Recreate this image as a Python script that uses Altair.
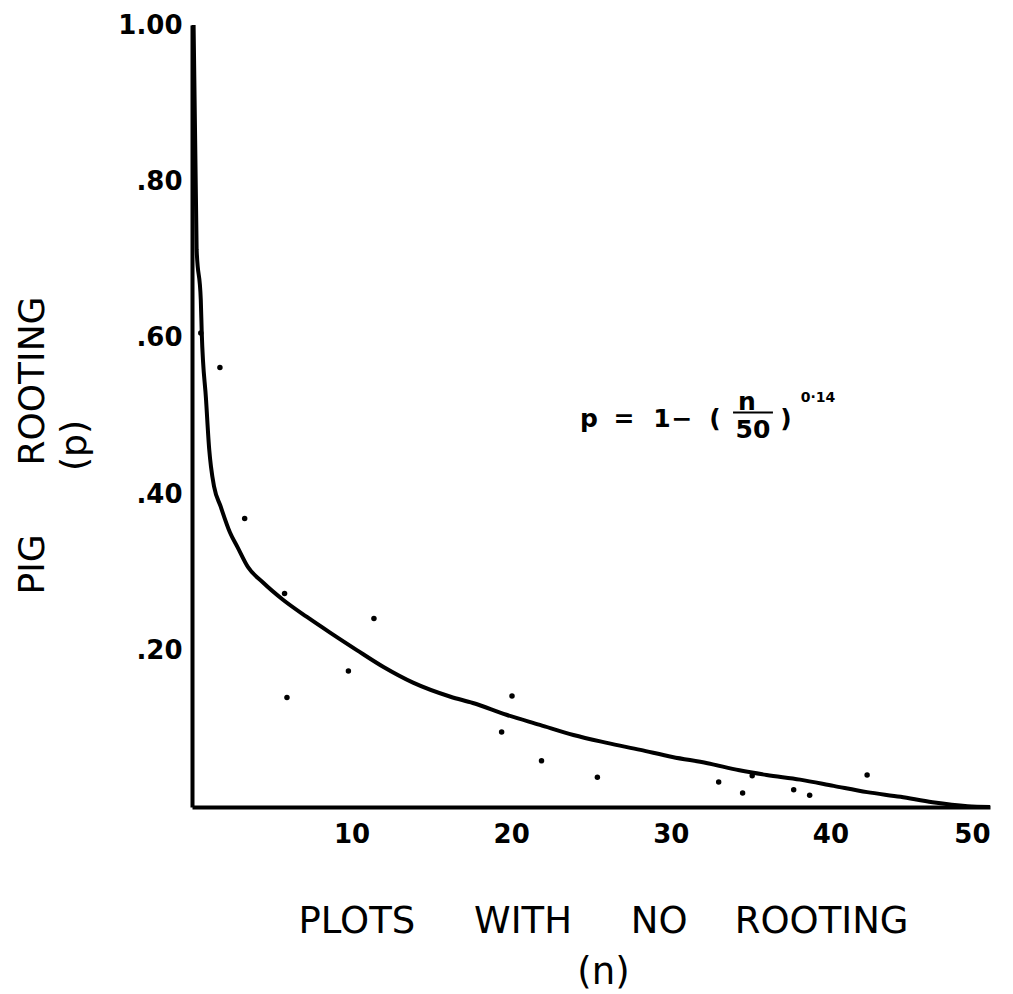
import altair as alt
import pandas as pd

# Fitted curve
curve_n = [0.1, 0.29, 0.55, 0.61, 0.88, 1.08, 1.19, 1.38, 1.8, 2.38, 2.86, 3.5, 4.45,
           5.7, 7.2, 8.65, 10.3, 12.0, 13.85, 16.2, 17.6, 19.7, 21.8, 23.9, 26.0, 28.1,
           30.1, 32.3, 34.3, 36.0, 38.1, 40.2, 42.3, 44.4, 46.4, 48.6, 50.0]
curve_p = [1.0, 0.713, 0.649, 0.607, 0.521, 0.457, 0.435, 0.41, 0.384, 0.351, 0.332,
           0.307, 0.287, 0.265, 0.243, 0.223, 0.201, 0.179, 0.159, 0.141, 0.133, 0.118,
           0.105, 0.092, 0.082, 0.073, 0.064, 0.056, 0.047, 0.041, 0.035, 0.027, 0.019,
           0.013, 0.006, 0.001, 0.0]

# Observed points
obs_n = [0.55, 1.75, 3.3, 5.8, 5.95, 9.8, 11.4, 19.4, 20.05, 21.9, 25.4, 33.0, 34.5,
         35.1, 37.7, 38.7, 42.3]
obs_p = [0.606, 0.562, 0.369, 0.273, 0.140, 0.174, 0.241, 0.096, 0.142, 0.059, 0.038,
         0.032, 0.018, 0.040, 0.022, 0.015, 0.041]

# Axis ticks
x_tick_values = [10, 20, 30, 40, 50]
x_tick_labels = ["10", "20", "30", "40", "50"]
y_tick_values = [0.2, 0.4, 0.6, 0.8, 1.0]
y_tick_labels = [".20", ".40", ".60", ".80", "1.00"]

# Formula annotation  p = 1 - (n/50)^0.14  (anchored in data units)
formula_text = ["p", "=", "1", "\u2212", "(", "n", "50", ")"]
formula_n = [24.87, 27.07, 29.45, 30.70, 32.77, 34.77, 35.15, 37.22]
formula_p = [0.4853, 0.4853, 0.4853, 0.4853, 0.4853, 0.5083, 0.4725, 0.4853]
exponent_text = ["0\u00b714"]
exponent_n = [39.22]
exponent_p = [0.5173]
bar_n = [33.9]
bar_n2 = [36.4]
bar_p = [0.5045]

FONT = "DejaVu Sans"
NB = "\u00a0"


def label_expr(vals, labels):
    e = "''"
    for v, l in reversed(list(zip(vals, labels))):
        e = f"abs(datum.value - {v}) < 1e-6 ? '{l}' : ({e})"
    return e


curve_df = pd.DataFrame({"n": curve_n, "p": curve_p})
obs_df = pd.DataFrame({"n": obs_n, "p": obs_p})
form_df = pd.DataFrame({"n": formula_n, "p": formula_p, "t": formula_text})
exp_df = pd.DataFrame({"n": exponent_n, "p": exponent_p, "t": exponent_text})
bar_df = pd.DataFrame({"n": bar_n, "n2": bar_n2, "p": bar_p})

x_scale = alt.Scale(domain=[0, 50], nice=False, zero=True)
y_scale = alt.Scale(domain=[0, 1], nice=False, zero=True)

x_axis = alt.Axis(
    values=x_tick_values,
    labelExpr=label_expr(x_tick_values, x_tick_labels),
    title=["PLOTS" + NB * 5 + "WITH" + NB * 5 + "NO" + NB * 4 + "ROOTING", "(n)" + NB * 3],
    titleX=411,
    titleY=125,
    titleBaseline="alphabetic",
    titleLineHeight=51,
    titleFontSize=37,
    titleFontWeight="normal",
    labelPadding=14,
)
y_axis = alt.Axis(
    values=y_tick_values,
    labelExpr=label_expr(y_tick_values, y_tick_labels),
    title=["PIG" + NB * 6 + "ROOTING", NB * 3 + "(p)"],
    titleX=-149,
    titleY=420,
    titleAngle=270,
    titleBaseline="alphabetic",
    titleLineHeight=42,
    titleFontSize=36,
    titleFontWeight="normal",
    labelPadding=10,
)

curve = alt.Chart(curve_df).mark_line(
    color="black", strokeWidth=4, clip=False, interpolate="monotone"
).encode(
    x=alt.X("n:Q", scale=x_scale, axis=x_axis),
    y=alt.Y("p:Q", scale=y_scale, axis=y_axis),
    order="n:Q",
)

points = alt.Chart(obs_df).mark_circle(color="black", size=30, opacity=1).encode(
    x=alt.X("n:Q", scale=x_scale),
    y=alt.Y("p:Q", scale=y_scale),
)

formula = alt.Chart(form_df).mark_text(
    font=FONT, fontSize=25, fontWeight="bold", baseline="alphabetic", align="center", color="black"
).encode(
    x=alt.X("n:Q", scale=x_scale),
    y=alt.Y("p:Q", scale=y_scale),
    text="t:N",
)

exponent = alt.Chart(exp_df).mark_text(
    font=FONT, fontSize=14, fontWeight="bold", baseline="alphabetic", align="center", color="black"
).encode(
    x=alt.X("n:Q", scale=x_scale),
    y=alt.Y("p:Q", scale=y_scale),
    text="t:N",
)

bar = alt.Chart(bar_df).mark_rule(color="black", strokeWidth=2).encode(
    x=alt.X("n:Q", scale=x_scale),
    x2="n2:Q",
    y=alt.Y("p:Q", scale=y_scale),
)

chart = alt.layer(curve, points, formula, exponent, bar).properties(
    width=798,
    height=782,
    padding={"left": 192, "top": 25, "right": 23, "bottom": 187},
    autosize="none",
    background="white",
).configure_view(stroke=None).configure_axis(
    grid=False,
    ticks=False,
    tickSize=0,
    domainColor="black",
    domainWidth=4,
    labelFont=FONT,
    labelFontSize=26,
    labelFontWeight="bold",
    labelColor="black",
    titleFont=FONT,
    titleColor="black",
)

chart.save("out.html", embed_options={"renderer": "svg", "actions": False})
